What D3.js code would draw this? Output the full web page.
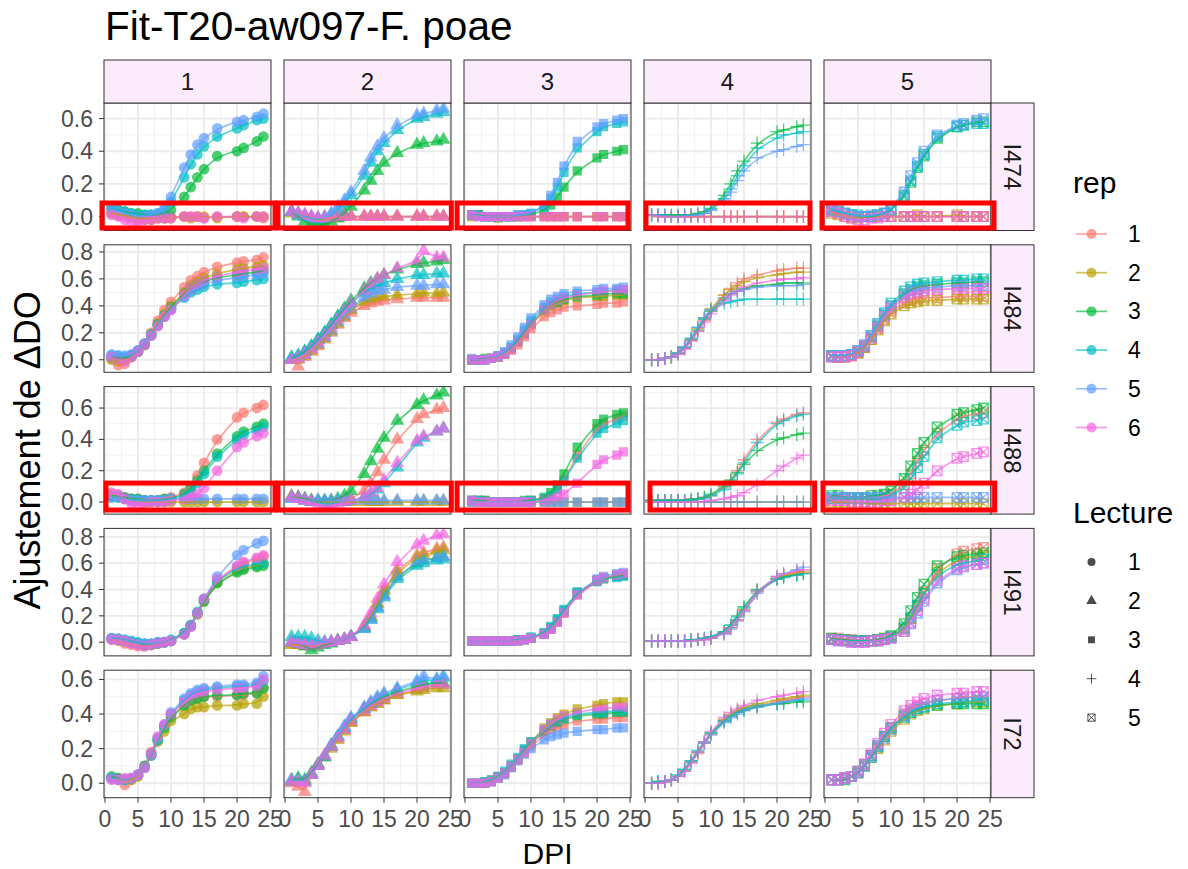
<!DOCTYPE html>
<html>
<head>
<meta charset="utf-8">
<script src="https://cdn.jsdelivr.net/npm/d3@7"></script>
<style>
  body { margin: 0; background: #fff; }
  text { font-family: "Liberation Sans", Arial, sans-serif; }
</style>
</head>
<body>
<svg id="chart" width="1188" height="869"></svg>
<script>
// ---- data -----------------------------------------------------------------
const days = [1, 2, 3, 4, 5, 6, 7, 8, 9, 10, 12, 13, 14, 15, 17, 20, 21, 23, 24];
const lectures = ["1", "2", "3", "4", "5"];
const reps = ["1", "2", "3", "4", "5", "6"];
const isolates = ["I474", "I484", "I488", "I491", "I72"];
const xTicks = [0, 5, 10, 15, 20, 25];

// ΔDO ×100 per day; one block per Lecture (1..5), one string per rep (1..6)
const I474 = [
  ["2 1 0 -1 -2 -2 -1 -1 -1 0 0 0 0 -1 0 0 0 0 -1",
   "2 1 1 0 -1 -1 -2 -1 -1 -1 0 -1 0 0 -1 0 0 0 0",
   "5 4 3 2 2 1 1 1 2 4 12 18 24 29 37 40 42 46 49",
   "6 4 3 2 1 1 1 2 4 9 24 32 38 43 49 54 56 59 60",
   "5 3 2 1 0 0 1 2 5 12 30 38 44 48 54 58 59 61 63",
   "1 0 -2 -3 -3 -2 -2 -1 -1 -1 0 0 0 -1 0 0 -1 0 0"],
  ["3 2 1 0 -1 -1 0 0 0 0 0 0 0 0 0 0 0 0 0",
   "2 1 0 -1 -2 -2 -1 -1 0 0 0 0 0 0 0 0 0 0 0",
   "3 0 -3 -5 -5 -5 -3 -1 2 6 16 22 28 33 39 44 45 46 47",
   "3 2 0 -1 -2 -1 1 4 8 13 25 33 40 45 53 60 61 63 64",
   "3 1 0 -1 -1 0 2 6 10 15 28 36 43 48 56 62 63 65 66",
   "3 2 1 0 -1 -1 -1 0 0 0 0 0 0 0 0 0 0 0 0"],
  ["1 1 0 0 0 0 0 0 0 0 0 0 0 0 0 0 0 0 0",
   "0 1 0 0 -1 0 0 0 0 0 0 0 0 0 0 0 0 0 0",
   "1 1 0 0 0 0 0 0 1 1 4 7 12 18 28 36 38 40 41",
   "1 1 0 0 0 0 0 1 1 2 6 11 18 27 42 52 55 57 58",
   "1 0 0 0 0 0 0 1 1 2 7 13 21 31 46 55 57 59 60",
   "1 0 0 0 0 0 0 0 0 0 0 0 0 0 0 0 0 0 0"],
  ["1 1 0 0 0 0 0 0 0 0 0 0 0 0 0 0 0 0 0",
   "1 0 0 0 0 0 0 0 0 0 0 0 0 0 0 0 0 0 0",
   "1 1 1 1 1 1 1 2 3 5 13 20 28 34 45 52 53 55 56",
   "1 1 1 0 0 1 1 1 2 4 11 17 25 31 42 48 50 51 52",
   "1 1 0 0 0 0 1 1 2 4 10 15 22 28 36 40 41 43 44",
   "1 0 0 0 0 0 0 0 0 0 0 0 0 0 0 0 0 0 0"],
  ["3 2 1 0 0 0 0 0 0 0 0 0 0 0 0 0 0 0 0",
   "2 1 0 -1 -1 0 0 0 0 0 0 0 1 0 0 1 0 0 0",
   "4 3 2 1 0 0 0 1 2 4 12 21 30 37 48 55 56 58 58",
   "4 3 2 1 1 0 0 1 2 4 13 22 31 38 49 55 56 57 57",
   "5 4 2 1 0 0 1 1 2 5 15 25 33 40 50 56 57 59 60",
   "3 2 0 -1 -2 -2 -1 -1 0 0 0 0 0 0 0 0 0 0 0"]
];

const I484 = [
  ["1 -4 -3 2 6 12 20 29 37 43 54 59 62 65 69 72 73 74 76",
   "0 -1 0 2 6 11 19 27 34 40 50 55 58 61 64 67 68 69 70",
   "2 1 1 3 6 11 18 26 33 39 49 53 56 58 61 63 64 65 66",
   "3 3 2 3 7 12 19 26 32 38 46 50 52 54 56 57 58 59 60",
   "4 3 3 4 7 12 18 25 32 37 47 51 54 56 59 61 62 63 64",
   "2 0 -1 2 6 11 18 25 32 37 48 53 56 59 62 65 66 67 68"],
  ["0 -5 2 6 10 15 20 26 31 35 40 42 43 44 45 46 46 46 46",
   "0 0 3 7 11 16 21 27 32 37 43 45 46 47 48 49 50 49 50",
   "1 3 6 10 15 20 26 32 38 44 53 57 60 63 67 71 72 73 74",
   "2 3 6 10 15 20 26 32 37 42 50 53 55 57 60 63 63 64 64",
   "0 1 4 8 12 17 22 28 33 38 46 49 51 52 54 55 55 56 56",
   "0 1 4 8 13 18 24 30 36 42 51 56 60 63 68 73 81 76 76"],
  ["0 0 0 1 2 4 7 11 17 23 32 35 37 39 40 41 42 42 43",
   "0 0 0 1 2 4 8 13 19 26 36 40 42 44 46 47 47 48 48",
   "0 0 1 1 2 5 9 14 20 27 37 41 43 45 47 48 49 49 49",
   "0 0 0 1 3 5 9 15 22 29 39 43 45 47 49 50 51 52 52",
   "1 0 0 1 3 6 11 17 24 31 41 45 47 49 51 52 53 53 54",
   "0 0 0 1 2 4 8 13 19 26 37 41 44 46 48 50 51 51 52"],
  ["0 0 1 2 4 8 14 21 29 37 48 53 57 60 63 66 67 68 68",
   "0 0 1 2 5 9 15 23 31 38 48 52 55 58 61 63 64 65 65",
   "0 0 1 2 5 9 15 22 30 36 45 49 51 53 55 56 57 57 57",
   "0 0 1 2 5 9 16 24 31 37 42 43 44 45 45 45 45 45 45",
   "0 0 1 2 5 10 16 24 31 37 46 49 51 52 54 55 55 55 56",
   "0 0 1 2 4 8 14 21 28 34 44 48 51 54 57 59 60 60 61"],
  ["2 2 2 3 5 9 15 23 30 36 42 44 45 46 46 47 47 47 47",
   "3 2 2 3 5 9 15 22 29 34 40 42 43 44 44 45 45 45 45",
   "3 2 3 4 6 10 17 25 33 40 49 52 54 55 56 57 57 58 58",
   "3 3 3 4 7 11 18 27 35 42 51 54 56 57 58 59 59 60 60",
   "3 3 3 4 7 11 18 26 34 40 48 51 52 53 54 55 55 55 55",
   "2 2 2 3 6 10 16 24 32 38 46 49 50 51 52 53 53 53 53"]
];

const I488 = [
  ["5 4 3 2 2 1 1 1 2 3 6 10 17 25 40 54 57 60 62",
   "4 3 2 1 1 0 0 0 0 0 0 0 0 0 0 0 0 0 0",
   "4 4 3 2 2 1 1 1 2 2 5 9 14 20 31 42 45 48 50",
   "3 3 2 2 1 1 1 1 1 2 4 7 12 18 29 40 43 46 48",
   "3 3 2 1 1 1 1 1 1 2 2 2 2 2 2 2 2 2 2",
   "6 5 2 -1 -2 -1 0 0 0 1 2 3 5 9 20 35 38 42 44"],
  ["4 3 2 1 0 0 0 0 1 2 7 12 19 27 40 53 56 59 60",
   "3 2 1 0 0 0 0 0 0 0 0 0 0 0 0 0 0 0 0",
   "3 3 2 1 1 1 1 2 4 7 18 26 34 41 52 62 65 68 70",
   "3 2 1 0 0 -1 -1 0 0 1 3 5 8 12 22 38 41 45 47",
   "2 2 1 1 1 1 1 1 1 1 1 1 1 1 1 1 1 1 1",
   "3 2 1 0 -2 -4 -3 -1 0 1 3 6 9 14 25 39 42 45 47"],
  ["1 1 1 0 0 0 0 0 0 1 2 4 8 14 30 47 50 53 55",
   "0 0 0 0 0 0 0 0 0 0 0 0 0 0 0 0 0 0 0",
   "1 1 1 0 0 0 0 0 1 1 3 6 11 18 35 50 53 56 57",
   "1 1 0 0 0 0 0 0 0 1 2 4 8 13 28 44 47 50 52",
   "0 0 0 0 0 0 0 0 0 0 0 0 0 0 0 0 0 0 0",
   "1 0 0 0 0 0 0 0 0 0 1 2 3 5 12 24 27 30 32"],
  ["1 1 1 1 1 1 1 2 3 4 9 14 20 27 40 51 53 56 57",
   "0 0 0 0 0 0 0 0 0 0 0 0 0 0 0 0 0 0 0",
   "1 1 1 1 1 1 2 2 3 5 10 14 19 24 33 40 41 43 44",
   "1 1 1 1 1 1 1 2 2 4 8 12 18 25 38 50 52 55 56",
   "0 0 0 0 0 0 0 0 0 0 0 0 0 0 0 0 0 0 0",
   "0 0 0 0 0 0 0 0 0 1 2 3 4 6 11 20 23 28 30"],
  ["2 2 2 2 2 2 2 3 4 5 11 18 26 33 44 53 55 56 57",
   "0 0 0 0 0 0 -1 -1 -1 -1 -1 -1 -1 -1 -1 -1 -1 -1 -1",
   "4 4 3 3 3 3 4 4 5 7 15 23 31 38 48 56 57 59 60",
   "2 2 2 2 2 2 2 2 3 4 9 15 22 29 41 49 51 52 53",
   "3 3 3 3 3 3 3 3 3 3 3 3 3 3 3 3 3 3 3",
   "1 1 1 0 0 0 0 0 1 1 3 5 8 12 20 28 29 31 32"]
];

const I491 = [
  ["2 1 -1 -2 -3 -3 -2 -1 0 1 6 12 22 32 47 57 60 63 65",
   "3 2 1 0 -1 -2 -2 -1 0 1 6 12 21 31 45 54 56 58 60",
   "3 2 1 0 -1 -2 -2 -1 0 1 7 13 22 31 45 53 55 57 58",
   "3 3 2 1 0 -1 -1 0 0 2 7 13 23 33 47 56 58 59 60",
   "3 2 1 0 -1 -1 -1 0 0 1 6 12 22 33 50 66 70 75 77",
   "2 2 1 -1 -2 -3 -2 -1 0 1 6 12 22 33 48 58 61 64 66"],
  ["-1 -2 -2 -3 -2 -1 0 1 2 4 12 20 30 40 55 66 68 71 72",
   "-2 -2 -3 -3 -2 -1 0 1 2 4 11 19 29 39 53 64 66 69 70",
   "0 -1 -3 -6 -4 -2 -1 1 2 4 11 18 27 36 50 60 62 64 65",
   "4 4 4 3 1 0 0 1 2 4 10 17 25 34 48 58 60 62 63",
   "0 -1 -2 -2 -1 0 0 1 2 4 10 17 26 35 50 61 62 64 65",
   "0 -1 -2 -3 -2 -1 0 1 2 4 13 22 33 44 61 74 77 81 82"],
  ["1 1 1 1 1 1 1 1 2 3 6 10 15 22 36 46 48 50 51",
   "1 1 1 1 1 1 1 1 2 3 6 10 16 23 37 47 49 51 52",
   "1 1 1 1 1 1 1 2 2 3 7 11 17 24 38 47 49 50 51",
   "1 1 1 1 1 1 1 2 2 4 7 12 18 25 38 46 48 49 50",
   "1 1 1 1 1 1 1 1 2 3 6 10 16 23 37 48 50 52 53",
   "1 1 1 1 1 1 1 1 2 3 6 10 15 22 36 47 49 51 52"],
  ["1 1 1 1 1 1 1 2 2 3 7 11 17 24 38 48 50 52 53",
   "1 1 1 1 1 1 1 2 2 3 7 11 17 25 39 49 51 53 54",
   "1 1 1 1 1 1 2 2 3 4 8 13 20 27 40 48 50 51 52",
   "1 1 1 1 1 1 2 2 3 4 8 13 19 26 39 48 49 51 52",
   "1 1 1 1 1 1 1 2 2 3 6 10 16 23 37 50 52 55 57",
   "1 1 1 1 1 1 1 2 2 3 7 11 17 24 39 50 52 54 55"],
  ["3 3 2 2 1 1 1 2 3 4 10 18 28 38 56 67 69 71 72",
   "2 2 1 1 1 1 1 1 2 4 10 18 27 37 53 62 64 65 66",
   "3 2 2 1 1 1 1 2 3 5 14 24 34 44 58 65 66 67 68",
   "2 2 1 1 1 1 1 1 2 4 11 19 28 37 51 59 60 62 63",
   "2 1 1 0 0 0 1 1 2 3 8 14 22 31 45 55 57 59 60",
   "2 1 1 0 0 0 1 1 2 3 8 15 24 33 47 56 58 59 60"]
];

const I72 = [
  ["3 3 -1 2 4 10 18 26 33 39 45 48 49 50 50 51 51 52 55",
   "3 2 2 2 4 9 16 24 30 36 40 43 44 44 45 45 46 46 50",
   "4 3 2 3 5 10 17 25 32 38 45 48 49 50 51 51 52 52 55",
   "3 2 2 3 5 9 16 25 33 40 48 51 53 54 55 56 56 57 59",
   "3 2 2 3 5 9 17 26 34 41 49 52 54 55 56 57 57 58 62",
   "2 2 3 3 5 9 17 27 34 40 47 50 52 53 54 55 55 56 60"],
  ["0 -2 -5 5 11 15 21 26 31 35 41 44 46 48 51 54 55 57 57",
   "1 1 1 5 10 15 20 25 30 35 41 44 46 48 51 53 54 55 55",
   "2 3 2 6 11 16 22 27 32 37 43 46 48 50 53 56 57 58 58",
   "1 2 1 5 10 15 21 27 32 37 43 46 49 51 54 58 59 60 61",
   "2 1 1 5 10 16 22 27 33 38 44 47 50 52 55 59 62 60 62",
   "1 1 0 5 10 16 21 26 31 36 42 45 47 49 52 55 56 57 57"],
  ["0 0 0 1 3 5 9 13 17 21 28 31 32 34 36 37 37 38 38",
   "0 0 1 2 4 6 10 14 19 24 32 35 38 40 43 45 46 47 47",
   "0 0 0 1 3 6 10 14 19 23 30 33 35 37 39 40 40 41 41",
   "0 0 1 2 4 7 11 15 20 24 31 34 36 38 40 41 41 42 42",
   "0 0 0 1 3 5 9 13 17 20 25 27 28 29 30 31 31 32 32",
   "0 0 0 1 3 6 10 14 18 23 31 34 37 39 41 43 43 44 44"],
  ["0 0 1 2 4 7 12 17 23 28 36 39 41 43 45 47 48 49 50",
   "0 0 1 2 4 7 12 18 23 29 37 40 42 44 46 48 49 50 51",
   "0 1 1 2 4 8 13 18 24 29 36 39 41 42 44 46 46 47 47",
   "0 1 1 2 5 8 13 19 24 29 36 39 41 43 45 46 47 48 48",
   "0 0 1 2 4 7 12 18 23 28 35 38 40 42 44 46 47 48 49",
   "0 0 1 2 4 7 12 18 24 30 38 41 43 45 48 50 51 52 53"],
  ["2 2 3 4 7 11 16 21 27 32 40 43 45 46 48 49 50 50 50",
   "2 2 3 4 6 10 15 20 25 30 37 40 42 43 45 46 47 47 47",
   "2 2 2 4 6 10 15 21 27 32 39 41 43 44 45 46 46 46 46",
   "2 2 3 4 7 11 16 22 27 32 38 41 43 44 46 47 47 48 48",
   "2 2 3 4 6 10 15 21 26 31 39 42 44 46 48 49 49 50 50",
   "2 2 3 4 7 11 17 23 29 34 42 45 47 49 51 52 52 53 53"]
];

// near-zero curves outlined in red (DPI span, ΔDO span)
const highlights = [
  { isolate: "I474", lecture: "1", dpi: [-0.45, 25.76], ddo: [-0.07, 0.083] },
  { isolate: "I474", lecture: "2", dpi: [-1.06, 25.2], ddo: [-0.07, 0.083] },
  { isolate: "I474", lecture: "3", dpi: [-1.2, 24.7], ddo: [-0.07, 0.083] },
  { isolate: "I474", lecture: "4", dpi: [0.15, 25.0], ddo: [-0.07, 0.083] },
  { isolate: "I474", lecture: "5", dpi: [-0.45, 25.6], ddo: [-0.07, 0.083] },
  { isolate: "I488", lecture: "1", dpi: [0.15, 25.76], ddo: [-0.051, 0.121] },
  { isolate: "I488", lecture: "2", dpi: [-1.06, 25.2], ddo: [-0.051, 0.121] },
  { isolate: "I488", lecture: "3", dpi: [-1.2, 24.7], ddo: [-0.051, 0.121] },
  { isolate: "I488", lecture: "4", dpi: [0.76, 25.7], ddo: [-0.051, 0.121] },
  { isolate: "I488", lecture: "5", dpi: [-0.3, 25.7], ddo: [-0.051, 0.121] }
];

const repColors = ["#F8766D", "#B79F00", "#00BA38", "#00BFC4", "#619CFF", "#F564E3"];

// ---- layout ----------------------------------------------------------------
const rowData = { I474, I484, I488, I491, I72 };
const panelLeft = 104, panelW = 167, colGap = 13;
const panelTop = 103, panelH = 127.5, rowGap = 14.3;
const stripH = 43, stripW = 43;
const tickFont = 23, stripFont = 24, titleFont = 30;

const svg = d3.select("#chart");
svg.append("rect").attr("width", 1188).attr("height", 869).attr("fill", "#fff");

const parse = s => s.trim().split(/\s+/).map(v => +v / 100);

const x = d3.scaleLinear()
  .domain((() => { const e = d3.extent(days), p = (e[1] - e[0]) * 0.05; return [e[0] - p, e[1] + p]; })())
  .range([0, panelW]);

const colX = j => panelLeft + j * (panelW + colGap);
const rowY = i => panelTop + i * (panelH + rowGap);

// point shapes per Lecture: circle, triangle, square, plus, boxed cross
const shapePath = [
  () => d3.symbol(d3.symbolCircle, 90)(),
  () => d3.symbol(d3.symbolTriangle, 85)(),
  () => d3.symbol(d3.symbolSquare, 85)(),
  () => "M-6.5,0H6.5M0,-6.5V6.5",
  () => "M-4.8,-4.8H4.8V4.8H-4.8ZM-4.8,-4.8L4.8,4.8M4.8,-4.8L-4.8,4.8"
];
const shapeFilled = [true, true, true, false, false];

function drawShape(g, j, color, opacity) {
  const p = g.append("path").attr("d", shapePath[j]());
  if (shapeFilled[j]) p.attr("fill", color).attr("fill-opacity", opacity).attr("stroke", "none");
  else p.attr("fill", "none").attr("stroke", color).attr("stroke-opacity", opacity).attr("stroke-width", 1.3);
  return p;
}

const yScales = {};

isolates.forEach((iso, i) => {
  const blocks = rowData[iso].map(block => block.map(parse));
  const all = blocks.flat(2);
  const e = d3.extent(all), pad = (e[1] - e[0]) * 0.05;
  const y = d3.scaleLinear().domain([e[0] - pad, e[1] + pad]).range([panelH, 0]);
  yScales[iso] = y;
  const yMajor = y.ticks(5).filter(t => Math.abs(t * 10 - Math.round(t * 10)) < 1e-9 && Math.round(t * 10) % 2 === 0);
  const step = 0.2;
  const yMinor = d3.range(Math.floor(y.domain()[0] / step) * step - step / 2, y.domain()[1] + step, step)
    .map(v => +v.toFixed(3)).filter(v => v > y.domain()[0] && v < y.domain()[1]);

  lectures.forEach((lec, j) => {
    const g = svg.append("g").attr("transform", `translate(${colX(j)},${rowY(i)})`);
    g.append("rect").attr("width", panelW).attr("height", panelH).attr("fill", "#fff");

    // grid
    const xMinor = xTicks.slice(0, -1).map(t => t + 2.5);
    g.selectAll(null).data(xMinor).enter().append("line")
      .attr("x1", d => x(d)).attr("x2", d => x(d)).attr("y1", 0).attr("y2", panelH)
      .attr("stroke", "#F2F2F2").attr("stroke-width", 1);
    g.selectAll(null).data(yMinor).enter().append("line")
      .attr("y1", d => y(d)).attr("y2", d => y(d)).attr("x1", 0).attr("x2", panelW)
      .attr("stroke", "#F2F2F2").attr("stroke-width", 1);
    g.selectAll(null).data(xTicks).enter().append("line")
      .attr("x1", d => x(d)).attr("x2", d => x(d)).attr("y1", 0).attr("y2", panelH)
      .attr("stroke", "#EBEBEB").attr("stroke-width", 1.8);
    g.selectAll(null).data(yMajor).enter().append("line")
      .attr("y1", d => y(d)).attr("y2", d => y(d)).attr("x1", 0).attr("x2", panelW)
      .attr("stroke", "#EBEBEB").attr("stroke-width", 1.8);

    const clip = `clip-${i}-${j}`;
    g.append("clipPath").attr("id", clip).append("rect").attr("width", panelW).attr("height", panelH);
    const inner = g.append("g").attr("clip-path", `url(#${clip})`);

    // observed points
    blocks[j].forEach((vals, r) => {
      vals.forEach((v, k) => {
        drawShape(inner, j, repColors[r], 0.7)
          .attr("transform", `translate(${x(days[k])},${y(v)})`);
      });
    });

    // fitted curves
    const line = d3.line().x((d, k) => x(days[k])).y(d => y(d)).curve(d3.curveBasis);
    blocks[j].forEach((vals, r) => {
      inner.append("path").attr("d", line(vals))
        .attr("fill", "none").attr("stroke", repColors[r])
        .attr("stroke-opacity", 0.65).attr("stroke-width", 1.7);
    });

    g.append("rect").attr("width", panelW).attr("height", panelH)
      .attr("fill", "none").attr("stroke", "#333333").attr("stroke-width", 1);

    // left axis
    if (j === 0) {
      yMajor.forEach(t => {
        svg.append("line").attr("x1", colX(0) - 5).attr("x2", colX(0))
          .attr("y1", rowY(i) + y(t)).attr("y2", rowY(i) + y(t))
          .attr("stroke", "#333333").attr("stroke-width", 1);
        svg.append("text").attr("x", colX(0) - 11).attr("y", rowY(i) + y(t))
          .attr("text-anchor", "end").attr("dominant-baseline", "central")
          .attr("font-size", tickFont).attr("fill", "#4D4D4D").text(d3.format(".1f")(t));
      });
    }
    // bottom axis
    if (i === isolates.length - 1) {
      xTicks.forEach(t => {
        svg.append("line").attr("x1", colX(j) + x(t)).attr("x2", colX(j) + x(t))
          .attr("y1", rowY(i) + panelH).attr("y2", rowY(i) + panelH + 5)
          .attr("stroke", "#333333").attr("stroke-width", 1);
        svg.append("text").attr("x", colX(j) + x(t)).attr("y", rowY(i) + panelH + 29)
          .attr("text-anchor", "middle").attr("font-size", tickFont).attr("fill", "#4D4D4D").text(t);
      });
    }
    // top strips
    if (i === 0) {
      svg.append("rect").attr("x", colX(j)).attr("y", panelTop - stripH)
        .attr("width", panelW).attr("height", stripH)
        .attr("fill", "#FBEBFB").attr("stroke", "#333333").attr("stroke-width", 1);
      svg.append("text").attr("x", colX(j) + panelW / 2).attr("y", panelTop - stripH / 2)
        .attr("text-anchor", "middle").attr("dominant-baseline", "central")
        .attr("font-size", stripFont).attr("fill", "#1A1A1A").text(lec);
    }
  });

  // right strip
  const sx = colX(lectures.length - 1) + panelW;
  svg.append("rect").attr("x", sx).attr("y", rowY(i)).attr("width", stripW).attr("height", panelH)
    .attr("fill", "#FBEBFB").attr("stroke", "#333333").attr("stroke-width", 1);
  svg.append("text")
    .attr("transform", `translate(${sx + stripW / 2},${rowY(i) + panelH / 2}) rotate(90)`)
    .attr("text-anchor", "middle").attr("dominant-baseline", "central")
    .attr("font-size", stripFont).attr("fill", "#1A1A1A").text(iso);
});

// red outlines
highlights.forEach(h => {
  const i = isolates.indexOf(h.isolate), j = lectures.indexOf(h.lecture);
  const y = yScales[h.isolate];
  svg.append("rect")
    .attr("x", colX(j) + x(h.dpi[0])).attr("y", rowY(i) + y(h.ddo[1]))
    .attr("width", x(h.dpi[1]) - x(h.dpi[0])).attr("height", y(h.ddo[0]) - y(h.ddo[1]))
    .attr("fill", "none").attr("stroke", "#FF0000").attr("stroke-width", 5);
});

// titles
svg.append("text").attr("x", 105).attr("y", 40).attr("font-size", 40.5).attr("fill", "#000")
  .text("Fit-T20-aw097-F. poae");
svg.append("text").attr("x", colX(0) + (colX(4) + panelW - colX(0)) / 2).attr("y", 864)
  .attr("text-anchor", "middle").attr("font-size", titleFont).attr("fill", "#000").text("DPI");
svg.append("text")
  .attr("transform", `translate(40,${panelTop + (rowY(4) + panelH - panelTop) / 2}) rotate(-90)`)
  .attr("text-anchor", "middle").attr("font-size", 36).attr("fill", "#000")
  .text("Ajustement de ΔDO");

// legends
const lx = 1073;
svg.append("text").attr("x", lx).attr("y", 193).attr("font-size", titleFont).attr("fill", "#000").text("rep");
reps.forEach((r, k) => {
  const cy = 234 + k * 38.7;
  svg.append("line").attr("x1", 1076).attr("x2", 1107).attr("y1", cy).attr("y2", cy)
    .attr("stroke", repColors[k]).attr("stroke-opacity", 0.65).attr("stroke-width", 1.7);
  svg.append("circle").attr("cx", 1091.5).attr("cy", cy).attr("r", 5)
    .attr("fill", repColors[k]).attr("fill-opacity", 0.7);
  svg.append("text").attr("x", 1128).attr("y", cy).attr("dominant-baseline", "central")
    .attr("font-size", tickFont).attr("fill", "#000").text(r);
});
svg.append("text").attr("x", lx).attr("y", 523).attr("font-size", titleFont).attr("fill", "#000").text("Lecture");
lectures.forEach((l, k) => {
  const cy = 562 + k * 38.9;
  const g = svg.append("g").attr("transform", `translate(1091.5,${cy}) scale(0.75)`);
  drawShape(g, k, "#000", 0.7);
  svg.append("text").attr("x", 1128).attr("y", cy).attr("dominant-baseline", "central")
    .attr("font-size", tickFont).attr("fill", "#000").text(l);
});
</script>
</body>
</html>
